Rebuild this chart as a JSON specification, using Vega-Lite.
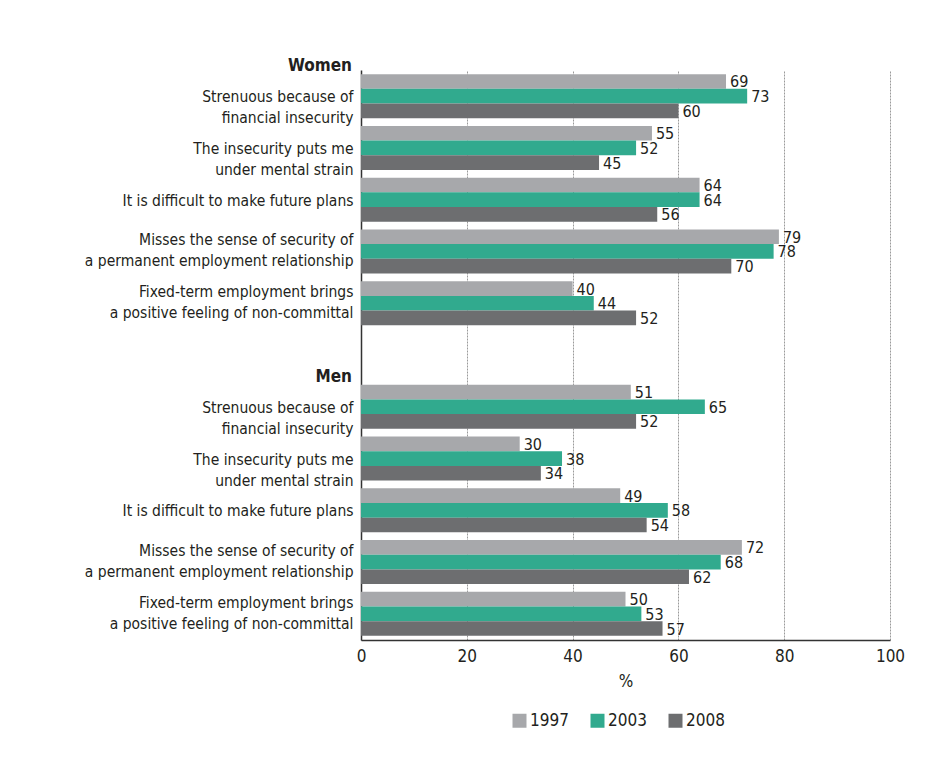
{
  "$schema": "https://vega.github.io/schema/vega-lite/v6.json",
  "width": 529,
  "height": 570,
  "autosize": {"type": "none"},
  "padding": {"left": 361, "top": 70, "right": 39, "bottom": 144},
  "config": {"font": "DejaVu Sans Condensed, Liberation Sans Narrow, Liberation Sans, sans-serif", "view": {"stroke": null}},
  "datasets": {
    "bars": [
      {"key": "W1|Strenuous because of|financial insecurity", "year": "1997", "value": 69},
      {"key": "W1|Strenuous because of|financial insecurity", "year": "2003", "value": 73},
      {"key": "W1|Strenuous because of|financial insecurity", "year": "2008", "value": 60},
      {"key": "W2|The insecurity puts me|under mental strain", "year": "1997", "value": 55},
      {"key": "W2|The insecurity puts me|under mental strain", "year": "2003", "value": 52},
      {"key": "W2|The insecurity puts me|under mental strain", "year": "2008", "value": 45},
      {"key": "W3|It is difficult to make future plans", "year": "1997", "value": 64},
      {"key": "W3|It is difficult to make future plans", "year": "2003", "value": 64},
      {"key": "W3|It is difficult to make future plans", "year": "2008", "value": 56},
      {"key": "W4|Misses the sense of security of|a permanent employment relationship", "year": "1997", "value": 79},
      {"key": "W4|Misses the sense of security of|a permanent employment relationship", "year": "2003", "value": 78},
      {"key": "W4|Misses the sense of security of|a permanent employment relationship", "year": "2008", "value": 70},
      {"key": "W5|Fixed-term employment brings|a positive feeling of non-committal", "year": "1997", "value": 40},
      {"key": "W5|Fixed-term employment brings|a positive feeling of non-committal", "year": "2003", "value": 44},
      {"key": "W5|Fixed-term employment brings|a positive feeling of non-committal", "year": "2008", "value": 52},
      {"key": "M1|Strenuous because of|financial insecurity", "year": "1997", "value": 51},
      {"key": "M1|Strenuous because of|financial insecurity", "year": "2003", "value": 65},
      {"key": "M1|Strenuous because of|financial insecurity", "year": "2008", "value": 52},
      {"key": "M2|The insecurity puts me|under mental strain", "year": "1997", "value": 30},
      {"key": "M2|The insecurity puts me|under mental strain", "year": "2003", "value": 38},
      {"key": "M2|The insecurity puts me|under mental strain", "year": "2008", "value": 34},
      {"key": "M3|It is difficult to make future plans", "year": "1997", "value": 49},
      {"key": "M3|It is difficult to make future plans", "year": "2003", "value": 58},
      {"key": "M3|It is difficult to make future plans", "year": "2008", "value": 54},
      {"key": "M4|Misses the sense of security of|a permanent employment relationship", "year": "1997", "value": 72},
      {"key": "M4|Misses the sense of security of|a permanent employment relationship", "year": "2003", "value": 68},
      {"key": "M4|Misses the sense of security of|a permanent employment relationship", "year": "2008", "value": 62},
      {"key": "M5|Fixed-term employment brings|a positive feeling of non-committal", "year": "1997", "value": 50},
      {"key": "M5|Fixed-term employment brings|a positive feeling of non-committal", "year": "2003", "value": 53},
      {"key": "M5|Fixed-term employment brings|a positive feeling of non-committal", "year": "2008", "value": 57}
    ],
    "headers": [
      {"key": "W1|Strenuous because of|financial insecurity", "text": "Women"},
      {"key": "M1|Strenuous because of|financial insecurity", "text": "Men"}
    ]
  },
  "layer": [
    {
      "data": {"name": "bars"},
      "mark": {"type": "bar"},
      "encoding": {
        "y": {
          "field": "key",
          "type": "nominal",
          "scale": {
            "domain": [
              "W1|Strenuous because of|financial insecurity",
              "W2|The insecurity puts me|under mental strain",
              "W3|It is difficult to make future plans",
              "W4|Misses the sense of security of|a permanent employment relationship",
              "W5|Fixed-term employment brings|a positive feeling of non-committal",
              "G",
              "M1|Strenuous because of|financial insecurity",
              "M2|The insecurity puts me|under mental strain",
              "M3|It is difficult to make future plans",
              "M4|Misses the sense of security of|a permanent employment relationship",
              "M5|Fixed-term employment brings|a positive feeling of non-committal"
            ],
            "paddingInner": 0.15,
            "paddingOuter": 0.08
          },
          "axis": {
            "title": null,
            "ticks": false,
            "domainColor": "#333333",
            "domainWidth": 1.5,
            "labelFontSize": 15.5,
            "labelColor": "#231f20",
            "labelPadding": 8,
            "labelLineHeight": 21,
            "labelLimit": 0,
            "labelOffset": {"condition": {"test": "indexof(datum.label, 'W4') == 0 || indexof(datum.label, 'W5') == 0 || indexof(datum.label, 'M4') == 0 || indexof(datum.label, 'M5') == 0", "value": -11}, "value": 1},
            "labelExpr": "datum.label == 'G' ? '' : slice(split(datum.label, '|'), 1)"
          }
        },
        "yOffset": {"field": "year", "type": "nominal", "sort": ["1997", "2003", "2008"]},
        "x": {
          "field": "value",
          "type": "quantitative",
          "scale": {"domain": [0, 100], "nice": false},
          "axis": {
            "title": "%",
            "values": [0, 20, 40, 60, 80, 100],
            "grid": true,
            "gridDash": [2, 1],
            "gridColor": "#9a9a9a",
            "ticks": false,
            "labelFlush": false,
            "labelFontSize": 17,
            "labelColor": "#231f20",
            "titleFontSize": 17,
            "titleFontWeight": "normal",
            "titleColor": "#231f20",
            "domainColor": "#333333",
            "domainWidth": 1.5,
            "labelPadding": 8,
            "titlePadding": 9
          }
        },
        "color": {
          "field": "year",
          "type": "nominal",
          "scale": {"domain": ["1997", "2003", "2008"], "range": ["#a7a8ab", "#31aa8e", "#6d6e70"]},
          "legend": {
            "title": null,
            "orient": "none",
            "legendX": 150,
            "legendY": 642,
            "direction": "horizontal",
            "symbolType": "square",
            "symbolSize": 196,
            "symbolStrokeWidth": 0,
            "labelFontSize": 17,
            "labelColor": "#231f20",
            "labelOffset": 2,
            "columnPadding": 20
          }
        }
      }
    },
    {
      "data": {"name": "bars"},
      "mark": {"type": "text", "align": "left", "baseline": "middle", "dx": 4, "dy": 1, "fontSize": 16, "color": "#231f20"},
      "encoding": {
        "y": {"field": "key", "type": "nominal"},
        "yOffset": {"field": "year", "type": "nominal", "sort": ["1997", "2003", "2008"]},
        "x": {"field": "value", "type": "quantitative"},
        "text": {"field": "value", "type": "quantitative"}
      }
    },
    {
      "data": {"name": "headers"},
      "mark": {"type": "text", "align": "right", "baseline": "alphabetic", "dx": -9, "dy": -3, "fontSize": 17, "fontWeight": "bold", "color": "#231f20"},
      "encoding": {
        "y": {"field": "key", "type": "nominal", "bandPosition": 0},
        "x": {"datum": 0, "type": "quantitative"},
        "text": {"field": "text", "type": "nominal"}
      }
    }
  ]
}
